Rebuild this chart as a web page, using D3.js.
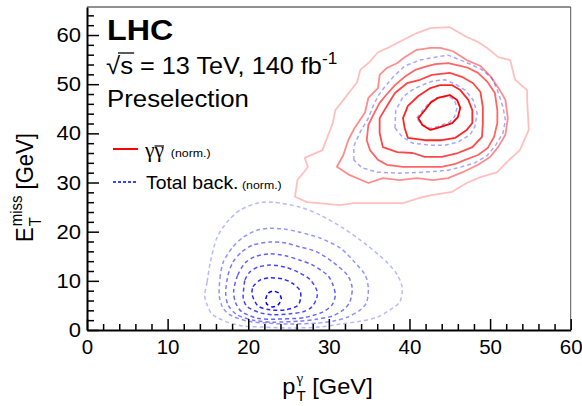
<!DOCTYPE html>
<html>
<head>
<meta charset="utf-8">
<script src="https://cdn.jsdelivr.net/npm/d3@7"></script>
<style>
  html, body { margin: 0; padding: 0; background: #fff; }
  svg { display: block; }
  text { white-space: pre; }
</style>
</head>
<body>
<svg id="chart" width="582" height="406"></svg>
<script>
// ---- axis ticks ----
const xMajorTicks = [0, 10, 20, 30, 40, 50, 60];
const xMinorTicks = [2, 4, 6, 8, 12, 14, 16, 18, 22, 24, 26, 28, 32, 34, 36, 38, 42, 44, 46, 48, 52, 54, 56, 58];
const yMajorTicks = [0, 10, 20, 30, 40, 50, 60];
const yMinorTicks = [2, 4, 6, 8, 12, 14, 16, 18, 22, 24, 26, 28, 32, 34, 36, 38, 42, 44, 46, 48, 52, 54, 56, 58, 62, 64];

// ---- signal (γγ̄) contour levels, outermost to innermost: [pT, ETmiss] ----
const sigLevel1 = [[25.8,27.1],[26.1,30.5],[26.8,31.9],[27.4,33.2],[27.0,35.0],[29.2,36.6],[30.5,42.1],[30.8,44.7],[31.8,46.8],[33.5,50.4],[33.9,52.9],[34.9,54.3],[36.1,56.5],[37.6,57.6],[39.2,59.0],[40.9,60.4],[42.6,61.4],[45.0,61.6],[47.1,59.6],[48.5,58.6],[49.6,57.4],[51.0,55.5],[52.5,54.9],[53.1,50.9],[54.6,48.8],[54.6,46.8],[54.8,40.7],[53.7,36.6],[52.1,34.2],[50.9,32.1],[48.8,31.1],[47.1,29.9],[45.3,28.1],[42.9,27.5],[41.3,26.9],[39.2,25.8],[33.0,25.8],[31.4,25.4],[27.3,26.0]];
const sigLevel2 = [[31.0,33.2],[31.8,35.6],[32.4,38.6],[33.2,41.1],[34.5,44.3],[34.9,47.2],[36.1,49.2],[36.3,51.9],[37.2,53.3],[38.5,54.3],[39.4,55.5],[40.9,57.0],[42.6,57.4],[43.8,57.4],[45.4,56.7],[47.1,54.9],[48.8,53.7],[50.0,51.7],[51.2,48.8],[51.9,46.8],[52.2,43.1],[51.9,39.7],[51.0,37.2],[50.0,35.2],[48.5,33.6],[46.6,32.1],[44.8,30.9],[42.9,30.5],[40.9,30.9],[38.8,30.5],[36.7,30.9],[34.9,29.9],[32.6,31.5]];
const sigLevel3 = [[34.7,38.6],[34.9,41.7],[35.5,43.7],[36.3,46.2],[37.1,47.8],[38.2,49.8],[39.4,51.5],[40.7,52.9],[41.9,53.5],[43.2,54.1],[44.8,54.3],[46.3,53.7],[47.3,53.3],[48.5,52.3],[49.7,50.4],[50.6,48.2],[50.9,44.7],[50.9,42.1],[50.5,39.3],[49.7,37.0],[48.5,35.6],[46.9,34.6],[45.7,33.8],[44.0,33.2],[41.9,33.2],[39.2,33.2],[37.2,33.6],[36.1,34.6],[35.1,36.6]];
const sigLevel4 = [[36.3,43.1],[37.3,45.8],[38.2,48.2],[39.7,50.2],[41.3,50.9],[42.8,51.9],[45.0,52.3],[46.5,51.5],[47.9,50.2],[48.8,48.4],[49.1,45.4],[49.1,42.1],[49.0,39.3],[47.8,37.2],[46.0,36.0],[44.0,35.2],[41.9,35.2],[40.4,36.0],[38.5,36.2],[36.7,37.2],[36.3,40.1]];
const sigLevel5 = [[39.2,43.1],[39.8,45.6],[41.1,47.6],[42.6,49.2],[43.8,49.8],[45.3,49.8],[46.3,48.8],[47.3,46.8],[47.8,44.7],[47.8,42.1],[47.1,40.7],[45.7,39.1],[44.0,38.6],[41.9,38.6],[39.8,39.1],[39.4,41.1]];
const sigLevel6 = [[41.1,43.1],[41.9,44.7],[42.6,46.2],[43.5,47.2],[45.0,47.8],[45.9,46.8],[46.3,45.2],[46.0,43.3],[45.3,42.1],[43.5,41.1],[42.6,40.7],[41.6,41.7]];

// ---- total background contour levels (norm.), outermost to innermost ----
const bkgLevel1 = [[14.6,7.1],[14.9,9.8],[15.3,13.8],[16.1,18.7],[17.4,22.0],[19.0,24.4],[21.1,25.8],[23.1,26.0],[26.4,25.0],[28.9,23.4],[31.8,20.7],[34.7,17.3],[37.2,13.8],[38.5,11.2],[39.1,8.5],[38.8,5.7],[37.6,4.1],[36.0,2.6],[33.9,1.8],[31.4,1.2],[28.9,0.6],[25.2,0.4],[21.8,0.6],[19.4,0.8],[17.4,1.6],[15.6,3.1],[14.9,5.1]];
const bkgLevel2 = [[16.4,7.1],[16.5,10.6],[16.9,13.8],[18.0,16.7],[19.4,18.9],[21.1,20.3],[22.7,20.7],[24.6,20.5],[26.4,19.9],[28.9,18.7],[31.4,16.7],[33.2,13.8],[34.5,11.2],[34.9,8.5],[34.7,5.7],[33.9,4.1],[32.3,2.6],[30.5,1.8],[28.5,1.4],[25.2,1.2],[22.3,1.4],[19.9,1.8],[17.7,3.1],[16.8,4.7]];
const bkgLevel3 = [[17.2,7.7],[17.5,11.2],[18.1,13.8],[19.2,15.9],[20.6,17.3],[22.7,17.9],[24.6,17.7],[26.4,16.9],[28.5,15.9],[30.5,13.8],[32.3,11.2],[32.9,8.5],[32.6,5.7],[31.8,4.1],[30.4,2.8],[28.5,2.2],[26.4,1.8],[23.1,1.6],[20.6,2.0],[18.6,3.1],[17.5,5.1]];
const bkgLevel4 = [[18.2,8.1],[18.7,11.2],[19.6,13.6],[20.8,14.9],[22.7,15.5],[24.6,15.1],[26.4,14.2],[28.0,13.2],[29.8,11.2],[30.5,9.2],[30.8,7.1],[30.4,5.1],[29.3,3.7],[27.7,2.8],[26.4,2.4],[23.1,2.2],[21.1,2.4],[19.2,3.7],[18.4,5.7]];
const bkgLevel5 = [[19.4,7.7],[19.6,10.2],[20.2,11.8],[21.2,12.8],[22.7,13.2],[24.6,12.8],[26.4,11.6],[27.7,10.2],[28.5,8.1],[28.5,6.5],[27.9,4.7],[26.8,3.7],[25.2,3.3],[23.1,3.1],[21.5,3.5],[19.9,4.7],[19.4,6.3]];
const bkgLevel6 = [[20.5,7.1],[20.6,8.8],[21.5,10.2],[22.7,10.6],[24.2,10.4],[25.4,9.6],[26.4,8.1],[26.5,6.5],[26.1,4.9],[24.6,4.1],[22.7,4.1],[21.2,4.9]];
const bkgLevel7 = [[22.2,6.5],[22.5,7.5],[23.1,7.9],[23.8,7.5],[24.1,6.3],[23.7,5.1],[23.0,4.7],[22.3,5.3]];

// background contours that reach into the signal region
const bkgHighLevel1 = [[33.1,34.6],[33.1,37.4],[33.9,40.3],[34.9,43.1],[35.5,45.6],[36.1,47.6],[37.0,49.6],[38.0,51.5],[39.4,53.7],[41.3,54.9],[43.2,55.5],[44.8,55.9],[46.3,54.9],[47.8,53.9],[49.0,52.9],[50.2,51.3],[50.9,48.8],[51.6,45.4],[51.9,42.7],[51.6,40.1],[50.7,37.6],[49.6,35.4],[48.1,34.0],[46.5,33.2],[44.8,32.5],[41.9,32.1],[38.5,31.9],[36.0,32.1],[34.1,33.0]];
const bkgHighLevel2 = [[38.2,41.1],[38.3,44.7],[39.2,47.4],[40.3,48.8],[41.3,49.6],[42.8,50.6],[44.4,50.9],[45.7,50.0],[46.9,48.8],[47.9,46.8],[48.4,44.1],[48.1,41.3],[47.5,39.7],[46.0,38.2],[44.4,37.6],[42.6,37.6],[40.4,38.0],[39.1,39.3]];
const bkgHighLevel3 = [[40.9,43.1],[41.7,44.8],[42.5,46.3],[43.4,47.2],[44.8,47.6],[45.6,46.7],[45.9,45.2],[45.6,43.4],[45.0,42.3],[43.5,41.4],[42.6,41.0],[41.5,41.8]];

const legendLabels = ["γγ̄", "Total back."];

// ---- layout ----
const SANS = "'Liberation Sans', Arial, Helvetica, sans-serif";
const SERIF = "'Liberation Serif', 'Times New Roman', serif";
const STRETCH = 1.075;
const svg = d3.select("#chart");
const plotLeft = 87, plotRight = 570.7, plotTop = 7, plotBottom = 330;

const x = d3.scaleLinear().domain([0, 60]).range([plotLeft, plotRight]);
const y = d3.scaleLinear().domain([0, 65.7]).range([plotBottom, plotTop]);

const jagged = d3.line().x(d => x(d[0])).y(d => y(d[1])).curve(d3.curveLinearClosed);
const smooth = d3.line().x(d => x(d[0])).y(d => y(d[1])).curve(d3.curveCardinalClosed.tension(0.2));

const plot = svg.append("g");

// background contours, bottom region
const bkgSets = [bkgLevel1, bkgLevel2, bkgLevel3, bkgLevel4, bkgLevel5, bkgLevel6, bkgLevel7];
const bkgAlpha = [0.28, 0.42, 0.52, 0.62, 0.72, 0.85, 1];
plot.selectAll("path.bkg").data(bkgSets).join("path")
  .attr("class", "bkg")
  .attr("d", smooth)
  .attr("fill", "none")
  .attr("stroke", "#0000ff")
  .attr("stroke-opacity", (d, i) => bkgAlpha[i])
  .attr("stroke-width", 1.5)
  .attr("stroke-dasharray", "4,3");

// background contours inside the signal region
const bkgHighSets = [bkgHighLevel1, bkgHighLevel2, bkgHighLevel3];
plot.selectAll("path.bkgHigh").data(bkgHighSets).join("path")
  .attr("class", "bkgHigh")
  .attr("d", jagged)
  .attr("fill", "none")
  .attr("stroke", "#0000ff")
  .attr("stroke-opacity", 0.35)
  .attr("stroke-width", 1.5)
  .attr("stroke-dasharray", "4,3");

// signal contours
const sigSets = [sigLevel1, sigLevel2, sigLevel3, sigLevel4, sigLevel5, sigLevel6];
const sigAlpha = [0.25, 0.45, 0.6, 0.72, 0.85, 1];
plot.selectAll("path.sig").data(sigSets).join("path")
  .attr("class", "sig")
  .attr("d", jagged)
  .attr("fill", "none")
  .attr("stroke", "#ff0000")
  .attr("stroke-opacity", (d, i) => sigAlpha[i])
  .attr("stroke-width", 1.8)
  .attr("stroke-linejoin", "round");

// ---- frame ----
svg.append("line").attr("x1", plotLeft).attr("x2", plotRight).attr("y1", plotTop).attr("y2", plotTop)
  .attr("stroke", "#222").attr("stroke-width", 1);
svg.append("line").attr("x1", plotRight).attr("x2", plotRight).attr("y1", plotTop).attr("y2", plotBottom)
  .attr("stroke", "#555").attr("stroke-width", 1);

// ---- axes (ticks point inward) ----
const axisStyle = g => {
  g.select(".domain").attr("stroke", "#000").attr("stroke-width", 2);
  g.selectAll(".tick line").attr("stroke", "#000").attr("stroke-width", 1.5);
  g.selectAll("text").attr("font-family", SANS).attr("font-size", 20.5).attr("fill", "#000");
};

svg.append("g").attr("transform", `translate(0,${plotBottom})`)
  .call(d3.axisBottom(x).tickValues(xMinorTicks).tickSize(-6).tickSizeOuter(0).tickFormat(""))
  .call(g => { g.select(".domain").remove(); g.selectAll(".tick line").attr("stroke", "#000").attr("stroke-width", 1.5); });
svg.append("g").attr("transform", `translate(${plotLeft},0)`)
  .call(d3.axisLeft(y).tickValues(yMinorTicks).tickSize(-7).tickSizeOuter(0).tickFormat(""))
  .call(g => { g.select(".domain").remove(); g.selectAll(".tick line").attr("stroke", "#000").attr("stroke-width", 1.5); });

const xAxis = svg.append("g").attr("transform", `translate(0,${plotBottom})`)
  .call(d3.axisBottom(x).tickValues(xMajorTicks).tickSize(-11).tickSizeOuter(0).tickPadding(9).tickFormat(d3.format("d")))
  .call(axisStyle);
const yAxis = svg.append("g").attr("transform", `translate(${plotLeft},0)`)
  .call(d3.axisLeft(y).tickValues(yMajorTicks).tickSize(-12).tickSizeOuter(0).tickPadding(6).tickFormat(d3.format("d")))
  .call(axisStyle);
// slightly widened glyphs for the value labels on the vertical axis
yAxis.selectAll(".tick text").each(function () {
  const t = d3.select(this);
  const xx = +t.attr("x");
  t.attr("transform", `translate(${xx},0) scale(${STRETCH},1)`).attr("x", 0);
});

// ---- rich text helper: runs of text laid out left to right ----
function richText(parent, px, py, parts, opts = {}) {
  const g = parent.append("g");
  const inner = g.append("g");
  let cx = 0, pendingStack = 0;
  parts.forEach(p => {
    const t = inner.append("text")
      .attr("x", cx + (p.dx || 0))
      .attr("y", p.dy || 0)
      .attr("xml:space", "preserve")
      .attr("font-family", p.font || SANS)
      .attr("font-size", p.size)
      .attr("font-weight", p.bold ? "bold" : null)
      .attr("fill", "#000")
      .text(p.t);
    const w = t.node().getComputedTextLength();
    if (p.over) {
      inner.append("line")
        .attr("x1", cx + (p.dx || 0) + (p.overFrom || 0))
        .attr("x2", cx + (p.dx || 0) + w + (p.overExtra || 0))
        .attr("y1", p.over).attr("y2", p.over)
        .attr("stroke", "#000").attr("stroke-width", p.overWidth || 1.3);
    }
    if (p.stack) {
      pendingStack = Math.max(pendingStack, w + (p.dx || 0));
    } else {
      cx += Math.max(w + (p.dx || 0), pendingStack);
      pendingStack = 0;
    }
  });
  const total = cx * STRETCH;
  const shift = opts.anchor === "middle" ? -total / 2 : 0;
  const rot = opts.rotate ? ` rotate(${opts.rotate})` : "";
  g.attr("transform", `translate(${px},${py})${rot} translate(${shift},0)`);
  inner.attr("transform", opts.rotate ? `scale(1,${STRETCH})` : `scale(${STRETCH},1)`);
  return g;
}

// ---- labels ----
richText(svg, 107, 40, [{ t: "LHC", size: 30, bold: true }]);
richText(svg, 106, 74, [
  { t: "√", size: 24 },
  { t: "s", size: 24, over: -21, overFrom: -2, overExtra: 1 },
  { t: " = 13 TeV, 140 fb", size: 23.5 },
  { t: "-1", size: 16, dy: -10 }
]);
richText(svg, 107, 107, [{ t: "Preselection", size: 24 }]);

// axis titles
richText(svg, 327.5, 394, [
  { t: "p", size: 22 },
  { t: "γ", size: 14, font: SERIF, dy: -11, dx: 1, stack: true },
  { t: "T", size: 14, dy: 7, dx: 1 },
  { t: " [GeV]", size: 22 }
], { anchor: "middle" });

richText(svg, 33, 183.5, [
  { t: "E", size: 22 },
  { t: "miss", size: 15, dy: -10, dx: 1, stack: true },
  { t: "T", size: 15, dy: 7, dx: 1 },
  { t: " [GeV]", size: 22 }
], { anchor: "middle", rotate: -90 });

// ---- legend ----
const legend = svg.append("g");
const legendRows = [
  { y: 149, color: "#ff0000", dash: null, label: legendLabels[0] },
  { y: 182, color: "#0000ff", dash: "3,2", label: legendLabels[1] }
];
legend.selectAll("line.key").data(legendRows).join("line")
  .attr("class", "key")
  .attr("x1", 113).attr("x2", 138)
  .attr("y1", d => d.y).attr("y2", d => d.y)
  .attr("stroke", d => d.color)
  .attr("stroke-width", d => d.dash ? 1.5 : 2)
  .attr("stroke-dasharray", d => d.dash);

richText(legend, 145, legendRows[0].y + 8, [
  { t: "γ", size: 20, font: SERIF },
  { t: "γ", size: 20, font: SERIF, over: -11, overWidth: 1.2 },
  { t: "  (norm.)", size: 11.5, dy: 0 }
]);
richText(legend, 146, legendRows[1].y + 7, [
  { t: legendLabels[1], size: 18 },
  { t: " (norm.)", size: 11.5 }
]);
</script>
</body>
</html>
